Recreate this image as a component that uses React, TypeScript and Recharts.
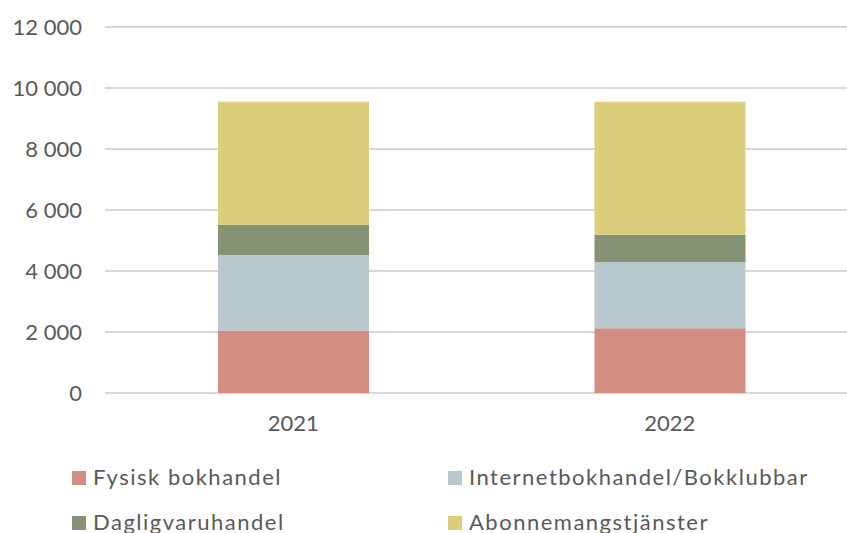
import { BarChart, Bar, XAxis, YAxis, CartesianGrid } from "recharts";

const years = ["2021", "2022"];
const fysisk = [2050, 2120];
const internet = [2475, 2165];
const daglig = [995, 905];
const abonnemang = [4030, 4360];
const yTicks = [0, 2000, 4000, 6000, 8000, 10000, 12000];

const SERIES = [
  { key: "fysisk", name: "Fysisk bokhandel", color: "#D38E84" },
  { key: "internet", name: "Internetbokhandel/Bokklubbar", color: "#B9C8CC" },
  { key: "daglig", name: "Dagligvaruhandel", color: "#869274" },
  { key: "abonnemang", name: "Abonnemangstjänster", color: "#DBCF7D" },
];

const data = years.map((year, i) => ({
  year,
  fysisk: fysisk[i],
  internet: internet[i],
  daglig: daglig[i],
  abonnemang: abonnemang[i],
}));

const FONT = "Lato, 'Open Sans', sans-serif";
const TEXT = "#595959";

const fmt = (v: number) => String(v).replace(/\B(?=(\d{3})+(?!\d))/g, " ");

// legend slots: 2 columns, row-major like the original
const legendPos = [
  { left: 72, top: 471 },
  { left: 448, top: 471 },
  { left: 72, top: 516 },
  { left: 448, top: 516 },
];

export default function App() {
  return (
    <div style={{ position: "absolute", left: 0, top: 0, width: 847, height: 533, overflow: "hidden", background: "#fff" }}>
      <BarChart
        width={870}
        height={533}
        data={data}
        margin={{ top: 27, right: 12, bottom: 110, left: 0 }}
        barSize={151}
      >
        <CartesianGrid vertical={false} stroke="#d9d9d9" strokeWidth={2} />
        <XAxis
          dataKey="year"
          height={30}
          axisLine={false}
          tickLine={false}
          tickSize={0}
          tickMargin={22}
          tick={{ fill: TEXT, fontSize: 22, fontFamily: FONT }}
        />
        <YAxis
          width={105}
          domain={[0, 12000]}
          ticks={yTicks}
          axisLine={false}
          tickLine={false}
          tickSize={0}
          tickMargin={23}
          tickFormatter={fmt}
          tick={{ fill: TEXT, fontSize: 22, fontFamily: FONT }}
        />
        {SERIES.map((s) => (
          <Bar key={s.key} dataKey={s.key} name={s.name} stackId="a" fill={s.color} isAnimationActive={false} />
        ))}
      </BarChart>
      {SERIES.map((s, i) => (
        <div key={s.key}>
          <div
            style={{
              position: "absolute",
              left: legendPos[i].left,
              top: legendPos[i].top,
              width: 14,
              height: 14,
              background: s.color,
            }}
          />
          <div
            style={{
              position: "absolute",
              left: legendPos[i].left + 21,
              top: legendPos[i].top - 5,
              fontFamily: FONT,
              fontSize: 22,
              lineHeight: "22px",
              color: TEXT,
              whiteSpace: "nowrap",
              letterSpacing: 1.5,
            }}
          >
            {s.name}
          </div>
        </div>
      ))}
    </div>
  );
}
